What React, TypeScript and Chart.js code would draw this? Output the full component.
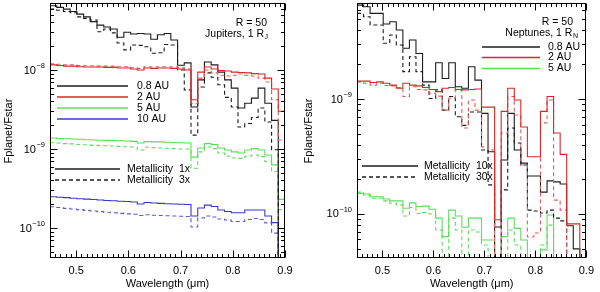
import React, { useEffect, useRef } from "react";
import { Chart, registerables } from "chart.js";
Chart.register(...registerables);

const FONT = '"Liberation Sans", Arial, Helvetica, sans-serif';

// Wavelength bin edges (micron) of the R = 50 spectra
const wavelengthEdges = [
  0.45, 0.4629, 0.4757, 0.4886, 0.5014, 0.5143, 0.5271, 0.54, 0.5529, 0.5657,
  0.5786, 0.5914, 0.6043, 0.6171, 0.63, 0.6429, 0.6557, 0.6686, 0.6814, 0.6943,
  0.7071, 0.72, 0.7329, 0.7457, 0.7586, 0.7714, 0.7843, 0.7971, 0.81, 0.8229,
  0.8357, 0.8486, 0.8614, 0.8743, 0.8871, 0.9,
];

const xTickValues = [0.5, 0.6, 0.7, 0.8, 0.9];

// ---- Left panel: Jupiters, 1 R_J ----
const jupiter08AU_1x = [6.5e-8, 6.2e-8, 5.9e-8, 5.5e-8, 5.1e-8, 4.7e-8, 4.1e-8, 3.7e-8, 3.5e-8, 3.3e-8, 2.6e-8, 3.0e-8, 2.85e-8, 2.9e-8, 2.85e-8, 2.45e-8, 2.8e-8, 2.9e-8, 2.4e-8, 1.15e-8, 1.23e-8, 3.4e-9, 7.5e-9, 1.26e-8, 1.16e-8, 9.4e-9, 7.5e-9, 5.9e-9, 3.3e-9, 3.8e-9, 4.4e-9, 5.9e-9, 3.8e-9, 2.3e-9, 1e-11];
const jupiter08AU_3x = [5.9e-8, 5.7e-8, 5.5e-8, 5.3e-8, 4.7e-8, 4.5e-8, 4.3e-8, 3.05e-8, 3.3e-8, 2.95e-8, 2.2e-8, 1.8e-8, 2.07e-8, 2.05e-8, 1.97e-8, 1.63e-8, 1.65e-8, 2.1e-8, 2.07e-8, 1.0e-8, 5.6e-9, 1.5e-9, 6.1e-9, 9.2e-9, 8.1e-9, 6.5e-9, 4.5e-9, 3.4e-9, 1.9e-9, 2.1e-9, 2.5e-9, 3.3e-9, 2.2e-9, 9.8e-10, 1e-11];
const jupiter2AU_1x = [1.16e-8, 1.14e-8, 1.12e-8, 1.12e-8, 1.1e-8, 1.09e-8, 1.09e-8, 1.09e-8, 1.08e-8, 1.08e-8, 1.06e-8, 1.06e-8, 1.03e-8, 1.0e-8, 1.06e-8, 1.05e-8, 1.06e-8, 1.06e-8, 1.05e-8, 1.03e-8, 1.0e-8, 4.2e-9, 9.4e-9, 1.09e-8, 1.03e-8, 9.85e-9, 9.7e-9, 9.4e-9, 9.3e-9, 9.2e-9, 9.0e-9, 8.9e-9, 7.9e-9, 5.75e-9, 3.0e-9];
const jupiter2AU_3x = [1.2e-8, 1.18e-8, 1.16e-8, 1.16e-8, 1.14e-8, 1.13e-8, 1.13e-8, 1.12e-8, 1.12e-8, 1.12e-8, 1.1e-8, 1.1e-8, 1.07e-8, 1.05e-8, 1.1e-8, 1.09e-8, 1.1e-8, 1.1e-8, 1.09e-8, 1.07e-8, 1.03e-8, 3.8e-9, 7.9e-9, 1.0e-8, 9.2e-9, 8.6e-9, 8.4e-9, 8.6e-9, 8.9e-9, 8.6e-9, 8.4e-9, 7.9e-9, 7.05e-9, 4.2e-9, 1.3e-9];
const jupiter5AU_1x = [1.38e-9, 1.36e-9, 1.35e-9, 1.34e-9, 1.33e-9, 1.31e-9, 1.3e-9, 1.29e-9, 1.285e-9, 1.28e-9, 1.27e-9, 1.26e-9, 1.25e-9, 1.19e-9, 1.24e-9, 1.23e-9, 1.23e-9, 1.22e-9, 1.21e-9, 1.2e-9, 1.19e-9, 7.9e-10, 1.03e-9, 1.17e-9, 1.14e-9, 1.03e-9, 9.7e-10, 9.2e-10, 8.9e-10, 9.7e-10, 1.01e-9, 9.7e-10, 8.4e-10, 6.3e-10, 2.3e-10];
const jupiter5AU_3x = [1.2e-9, 1.19e-9, 1.17e-9, 1.16e-9, 1.14e-9, 1.13e-9, 1.11e-9, 1.11e-9, 1.1e-9, 1.09e-9, 1.08e-9, 1.07e-9, 1.06e-9, 9.7e-10, 1.05e-9, 1.04e-9, 1.03e-9, 1.02e-9, 1.01e-9, 1.0e-9, 1.0e-9, 5.7e-10, 9.2e-10, 1.06e-9, 1.01e-9, 8.9e-10, 8.1e-10, 7.7e-10, 7.6e-10, 8.1e-10, 8.4e-10, 8.0e-10, 6.9e-10, 5.2e-10, 1.7e-10];
const jupiter10AU_1x = [2.49e-10, 2.45e-10, 2.42e-10, 2.38e-10, 2.35e-10, 2.32e-10, 2.29e-10, 2.26e-10, 2.23e-10, 2.21e-10, 2.18e-10, 2.16e-10, 2.13e-10, 2.01e-10, 2.1e-10, 2.07e-10, 2.05e-10, 2.03e-10, 2.01e-10, 2.0e-10, 1.98e-10, 1.42e-10, 1.79e-10, 1.95e-10, 1.87e-10, 1.69e-10, 1.62e-10, 1.56e-10, 1.56e-10, 1.69e-10, 1.69e-10, 1.69e-10, 1.42e-10, 1.17e-10, 3e-11];
const jupiter10AU_3x = [1.86e-10, 1.82e-10, 1.77e-10, 1.74e-10, 1.71e-10, 1.67e-10, 1.64e-10, 1.61e-10, 1.58e-10, 1.56e-10, 1.53e-10, 1.51e-10, 1.49e-10, 1.44e-10, 1.47e-10, 1.45e-10, 1.44e-10, 1.43e-10, 1.42e-10, 1.41e-10, 1.4e-10, 1.03e-10, 1.34e-10, 1.42e-10, 1.38e-10, 1.3e-10, 1.26e-10, 1.21e-10, 1.21e-10, 1.28e-10, 1.32e-10, 1.28e-10, 1.16e-10, 8.6e-11, 1e-11];

// ---- Right panel: Neptunes, 1 R_N ----
const neptune08AU_10x = [6.56e-9, 6.35e-9, 5.56e-9, 5.56e-9, 4.49e-9, 4.7e-9, 3.98e-9, 2.76e-9, 3.26e-9, 2.49e-9, 1.41e-9, 1.41e-9, 2.07e-9, 1.51e-9, 2.07e-9, 1.28e-9, 1.24e-9, 1.91e-9, 1.46e-9, 7.5e-10, 3.48e-10, 7.7e-11, 2.95e-10, 7.5e-10, 3.6e-10, 2.77e-10, 2.14e-10, 2.14e-10, 1.55e-10, 1.94e-10, 1.9e-10, 1.82e-10, 7.9e-11, 4.97e-11, 1e-11];
const neptune08AU_30x = [5.56e-9, 5.2e-9, 4.4e-9, 4.4e-9, 3.05e-9, 3.6e-9, 2.95e-9, 1.73e-9, 2.33e-9, 1.73e-9, 1.32e-9, 1.01e-9, 1.2e-9, 8.0e-10, 1.05e-9, 7.0e-10, 5.9e-10, 7.7e-10, 7.7e-10, 3.6e-10, 1.79e-10, 3e-11, 1.62e-10, 5.6e-10, 4.14e-10, 2.67e-10, 1.08e-10, 1.06e-10, 1.02e-10, 1.08e-10, 9.2e-11, 8.7e-11, 3e-11, 3e-11, 1e-11];
const neptune2AU_10x = [1.43e-9, 1.43e-9, 1.39e-9, 1.41e-9, 1.37e-9, 1.32e-9, 1.24e-9, 1.37e-9, 1.32e-9, 1.3e-9, 1.26e-9, 1.21e-9, 1.16e-9, 1.24e-9, 1.26e-9, 1.21e-9, 1.2e-9, 1.21e-9, 1.22e-9, 8.5e-10, 8.5e-10, 8.9e-11, 7.8e-10, 1.24e-9, 9.8e-10, 5.7e-10, 3.15e-10, 3.15e-10, 7.8e-10, 1.05e-9, 5.06e-10, 3.3e-10, 8.2e-11, 8.2e-11, 1e-11];
const neptune2AU_30x = [1.41e-9, 1.37e-9, 1.32e-9, 1.37e-9, 1.31e-9, 1.3e-9, 1.26e-9, 1.05e-9, 1.28e-9, 1.21e-9, 1.2e-9, 1.12e-9, 1.06e-9, 8.0e-10, 1.02e-9, 1.2e-9, 5.6e-10, 9.8e-10, 8.0e-10, 3.83e-10, 3.6e-10, 3e-11, 5.06e-10, 1.05e-9, 7.26e-10, 2.67e-10, 6.3e-11, 6.84e-11, 6.2e-10, 9.8e-10, 1.32e-10, 1.08e-10, 3e-11, 3e-11, 1e-11];
const neptune5AU_10x = [1.51e-10, 1.49e-10, 1.41e-10, 1.41e-10, 1.35e-10, 1.3e-10, 1.3e-10, 1.12e-10, 1.25e-10, 1.16e-10, 1.17e-10, 1.1e-10, 9.2e-11, 6.35e-11, 1.08e-10, 9.6e-11, 7.66e-11, 9.2e-11, 9.2e-11, 5.94e-11, 5.94e-11, 3.98e-11, 6.35e-11, 9.2e-11, 7.5e-11, 5.94e-11, 3e-11, 3e-11, 4.87e-11, 9.8e-11, 3e-11, 3e-11, 3e-11, 3e-11, 1e-11];
const neptune5AU_30x = [1.55e-10, 1.46e-10, 1.37e-10, 1.37e-10, 1.3e-10, 1.24e-10, 1.2e-10, 9.6e-11, 1.14e-10, 1.01e-10, 1.03e-10, 1.0e-10, 7.26e-11, 3e-11, 9.2e-11, 7.26e-11, 3e-11, 7.26e-11, 6.97e-11, 5.37e-11, 3e-11, 3e-11, 3e-11, 7.26e-11, 5.37e-11, 3e-11, 3e-11, 3e-11, 5.37e-11, 8.0e-11, 3e-11, 3e-11, 3e-11, 3e-11, 1e-11];

const COLORS = {
  black: "#1c1c1c",
  red: "#dc2626",
  redLight: "#e85a5a",
  green: "#5fdc5f",
  blue: "#3b3bbf",
  blueLight: "#5a5ad0",
};

type Series = { values: number[]; color: string; dashed: boolean };

function toSteps(values: number[]) {
  return wavelengthEdges.map((x, i) => ({ x, y: values[Math.min(i, values.length - 1)] }));
}

type LegendLine = { x1: number; x2: number; y: number; color: string; dashed: boolean; label: string; tx: number };
type Note = { text: string; sub?: string; x: number; y: number };
type Decor = { notes: Note[]; legend: LegendLine[]; decades: number[]; yTitleX: number; yTitleY: number };

const panelDecor = {
  id: "panelDecor",
  afterDraw(chart: any, _args: any, opts: Decor) {
    const { ctx, chartArea: a, scales } = chart;
    const xs = scales.x;
    const ys = scales.y;
    ctx.save();
    ctx.strokeStyle = "#000";
    ctx.fillStyle = "#000";
    ctx.lineWidth = 1;
    const L = Math.round(a.left) + 0.5;
    const R = Math.round(a.right) - 0.5;
    const T = Math.round(a.top) + 0.5;
    const B = Math.round(a.bottom) - 0.5;
    ctx.strokeRect(L, T, R - L, B - T);
    const line = (x1: number, y1: number, x2: number, y2: number) => {
      ctx.beginPath();
      ctx.moveTo(x1, y1);
      ctx.lineTo(x2, y2);
      ctx.stroke();
    };
    // x tick marks (inward, bottom and top)
    for (let i = 45; i <= 90; i++) {
      const px = Math.round(xs.getPixelForValue(i / 100)) + 0.5;
      const len = i % 10 === 0 ? 7 : 3.5;
      line(px, B, px, B - len);
      line(px, T, px, T + len);
    }
    // y tick marks (inward, left and right)
    const lo = Math.floor(Math.log10(ys.min));
    const hi = Math.ceil(Math.log10(ys.max));
    for (let e = lo; e <= hi; e++) {
      for (let m = 1; m <= 9; m++) {
        const v = m * Math.pow(10, e);
        if (v < ys.min || v > ys.max) continue;
        const py = Math.round(ys.getPixelForValue(v)) + 0.5;
        const len = m === 1 ? 7 : 3.5;
        line(L, py, L + len, py);
        line(R, py, R - len, py);
      }
    }
    // y tick labels 10^n
    ctx.textBaseline = "middle";
    ctx.textAlign = "left";
    for (const d of opts.decades) {
      const e = Math.round(Math.log10(d));
      const py = ys.getPixelForValue(d);
      const exp = "\u2212" + Math.abs(e);
      ctx.font = `7.5px ${FONT}`;
      const ew = ctx.measureText(exp).width;
      ctx.font = `11px ${FONT}`;
      const bw = ctx.measureText("10").width;
      const right = a.left - 5;
      ctx.fillText("10", right - ew - bw - 0.5, py + 0.5);
      ctx.font = `7.5px ${FONT}`;
      ctx.fillText(exp, right - ew, py - 4);
    }
    // axis titles
    ctx.font = `11px ${FONT}`;
    ctx.textAlign = "center";
    ctx.fillText("Wavelength (\u03bcm)", (a.left + a.right) / 2, 284);
    ctx.save();
    ctx.translate(opts.yTitleX, opts.yTitleY);
    ctx.rotate(-Math.PI / 2);
    ctx.fillText("Fplanet/Fstar", 0, 0);
    ctx.restore();
    // notes, right aligned
    for (const n of opts.notes) {
      ctx.font = `7px ${FONT}`;
      const sw = n.sub ? ctx.measureText(n.sub).width + 0.5 : 0;
      ctx.font = `10.5px ${FONT}`;
      ctx.textAlign = "right";
      ctx.fillText(n.text, n.x - sw, n.y);
      if (n.sub) {
        ctx.font = `7px ${FONT}`;
        ctx.textAlign = "right";
        ctx.fillText(n.sub, n.x, n.y + 3);
      }
    }
    // legend lines
    ctx.textAlign = "left";
    ctx.font = `10.5px ${FONT}`;
    for (const l of opts.legend) {
      ctx.strokeStyle = l.color;
      ctx.lineWidth = 1.5;
      ctx.setLineDash(l.dashed ? [4, 3] : []);
      line(l.x1, l.y, l.x2, l.y);
      ctx.setLineDash([]);
      ctx.fillStyle = "#000";
      ctx.fillText(l.label, l.tx, l.y);
    }
    ctx.restore();
  },
};

type PanelProps = {
  left: number;
  series: Series[];
  yMin: number;
  yMax: number;
  axisWidth: number;
  rightPad: number;
  decor: Decor;
};

function Panel({ left, series, yMin, yMax, axisWidth, rightPad, decor }: PanelProps) {
  const ref = useRef<HTMLCanvasElement | null>(null);
  useEffect(() => {
    if (!ref.current) return;
    const chart = new Chart(ref.current, {
      type: "line",
      data: {
        datasets: series.map((s) => ({
          data: toSteps(s.values),
          borderColor: s.color,
          borderWidth: 1.1,
          borderDash: s.dashed ? [4, 3] : [],
          pointRadius: 0,
          stepped: "before" as const,
          fill: false,
        })),
      },
      options: {
        animation: false,
        responsive: false,
        maintainAspectRatio: false,
        devicePixelRatio: 1,
        layout: { padding: { top: 3, right: rightPad, left: 0, bottom: 0 } },
        plugins: {
          legend: { display: false },
          tooltip: { enabled: false },
          panelDecor: decor,
        } as any,
        scales: {
          x: {
            type: "linear",
            min: 0.45,
            max: 0.9,
            grid: { display: false, drawTicks: false },
            border: { display: false },
            afterBuildTicks: (s: any) => {
              s.ticks = xTickValues.map((v) => ({ value: v }));
            },
            afterFit: (s: any) => {
              s.height = 34;
            },
            ticks: {
              autoSkip: false,
              maxRotation: 0,
              padding: 6,
              color: "#000",
              font: { family: FONT, size: 11 },
              callback: (v: any) => Number(v).toFixed(1),
            },
          },
          y: {
            type: "logarithmic",
            min: yMin,
            max: yMax,
            grid: { display: false, drawTicks: false },
            border: { display: false },
            ticks: { display: false },
            afterFit: (s: any) => {
              s.width = axisWidth;
            },
          },
        },
      } as any,
      plugins: [panelDecor as any],
    });
    return () => chart.destroy();
  }, []);
  return (
    <canvas
      ref={ref}
      width={300}
      height={292}
      style={{ position: "absolute", left, top: 0, width: 300, height: 292 }}
    />
  );
}

export default function App() {
  const leftSeries: Series[] = [
    { values: jupiter2AU_1x, color: COLORS.red, dashed: false },
    { values: jupiter2AU_3x, color: COLORS.redLight, dashed: true },
    { values: jupiter08AU_1x, color: COLORS.black, dashed: false },
    { values: jupiter08AU_3x, color: COLORS.black, dashed: true },
    { values: jupiter5AU_1x, color: COLORS.green, dashed: false },
    { values: jupiter5AU_3x, color: COLORS.green, dashed: true },
    { values: jupiter10AU_1x, color: COLORS.blue, dashed: false },
    { values: jupiter10AU_3x, color: COLORS.blueLight, dashed: true },
  ];
  const rightSeries: Series[] = [
    { values: neptune2AU_10x, color: COLORS.red, dashed: false },
    { values: neptune2AU_30x, color: COLORS.redLight, dashed: true },
    { values: neptune08AU_10x, color: COLORS.black, dashed: false },
    { values: neptune08AU_30x, color: COLORS.black, dashed: true },
    { values: neptune5AU_10x, color: COLORS.green, dashed: false },
    { values: neptune5AU_30x, color: COLORS.green, dashed: true },
  ];
  const leftDecor: Decor = {
    decades: [1e-10, 1e-9, 1e-8],
    yTitleX: 9,
    yTitleY: 131,
    notes: [
      { text: "R = 50", x: 267, y: 23 },
      { text: "Jupiters, 1 R", sub: "J", x: 268, y: 34 },
    ],
    legend: [
      { x1: 57, x2: 128, y: 86, color: COLORS.black, dashed: false, label: "0.8 AU", tx: 137 },
      { x1: 57, x2: 128, y: 97, color: COLORS.red, dashed: false, label: "2 AU", tx: 137 },
      { x1: 57, x2: 128, y: 108, color: COLORS.green, dashed: false, label: "5 AU", tx: 137 },
      { x1: 57, x2: 128, y: 119, color: COLORS.blue, dashed: false, label: "10 AU", tx: 137 },
      { x1: 55, x2: 120, y: 169, color: COLORS.black, dashed: false, label: "Metallicity  1x", tx: 127 },
      { x1: 55, x2: 120, y: 180, color: COLORS.black, dashed: true, label: "Metallicity  3x", tx: 127 },
    ],
  };
  const rightDecor: Decor = {
    decades: [1e-10, 1e-9],
    yTitleX: 9,
    yTitleY: 131,
    notes: [
      { text: "R = 50", x: 273, y: 22 },
      { text: "Neptunes, 1 R", sub: "N", x: 278, y: 33 },
    ],
    legend: [
      { x1: 182, x2: 240, y: 47, color: COLORS.black, dashed: false, label: "0.8 AU", tx: 248 },
      { x1: 182, x2: 240, y: 57.5, color: COLORS.red, dashed: false, label: "2 AU", tx: 248 },
      { x1: 182, x2: 240, y: 68.5, color: COLORS.green, dashed: false, label: "5 AU", tx: 248 },
      { x1: 62, x2: 118, y: 166, color: COLORS.black, dashed: false, label: "Metallicity  10x", tx: 124 },
      { x1: 62, x2: 118, y: 177, color: COLORS.black, dashed: true, label: "Metallicity  30x", tx: 124 },
    ],
  };
  return (
    <div style={{ position: "fixed", left: 0, top: 0, width: 600, height: 292, background: "#fff" }}>
      <Panel left={0} series={leftSeries} yMin={4.17e-11} yMax={7.05e-8} axisWidth={50} rightPad={15} decor={leftDecor} />
      <Panel left={300} series={rightSeries} yMin={4.14e-11} yMax={6.84e-9} axisWidth={57} rightPad={8} decor={rightDecor} />
    </div>
  );
}
